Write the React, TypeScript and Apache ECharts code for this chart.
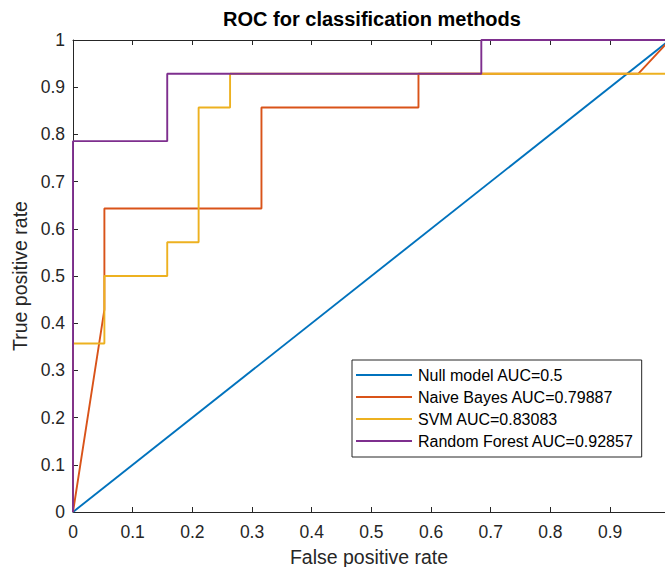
import React, { useEffect, useRef } from "react";
import * as echarts from "echarts";

const xTicks = [0, 0.1, 0.2, 0.3, 0.4, 0.5, 0.6, 0.7, 0.8, 0.9];
const yTicks = [0, 0.1, 0.2, 0.3, 0.4, 0.5, 0.6, 0.7, 0.8, 0.9, 1];

const seriesNames = [
  "Null model AUC=0.5",
  "Naive Bayes AUC=0.79887",
  "SVM AUC=0.83083",
  "Random Forest AUC=0.92857",
];
const seriesColors = ["#0072BD", "#D95319", "#EDB120", "#7E2F8E"];

const nullX = [0, 1];
const nullY = [0, 1];
const nbX = [0, 0.0526, 0.0526, 0.3158, 0.3158, 0.5789, 0.5789, 0.9474, 1];
const nbY = [0, 0.4286, 0.6429, 0.6429, 0.8571, 0.8571, 0.9286, 0.9286, 1];
const svmX = [0, 0, 0.0526, 0.0526, 0.1579, 0.1579, 0.2105, 0.2105, 0.2632, 0.2632, 1, 1];
const svmY = [0, 0.3571, 0.3571, 0.5, 0.5, 0.5714, 0.5714, 0.8571, 0.8571, 0.9286, 0.9286, 1];
const rfX = [0, 0, 0.1579, 0.1579, 0.6842, 0.6842, 1];
const rfY = [0, 0.7857, 0.7857, 0.9286, 0.9286, 1, 1];

const allX = [nullX, nbX, svmX, rfX];
const allY = [nullY, nbY, svmY, rfY];

const FONT = "'Liberation Sans', Arial, Helvetica, sans-serif";
const AX = "#262626";

export default function App() {
  const ref = useRef<HTMLDivElement>(null);
  useEffect(() => {
    if (!ref.current) return;
    const chart = echarts.init(ref.current, undefined, { renderer: "svg" });
    const series = seriesNames.map((name, i) => ({
      name,
      type: "line",
      xAxisIndex: 0,
      yAxisIndex: 0,
      data: allX[i].map((x, j) => [x, allY[i][j]]),
      symbol: "none",
      clip: true,
      lineStyle: { color: seriesColors[i], width: 1.9 },
      itemStyle: { color: seriesColors[i] },
    }));
    chart.setOption({
      animation: false,
      backgroundColor: "#ffffff",
      textStyle: { fontFamily: FONT },
      title: {
        text: "ROC for classification methods",
        left: 372,
        top: 9,
        padding: 0,
        textAlign: "center",
        textStyle: { fontFamily: FONT, fontSize: 20, fontWeight: "bold", color: "#000" },
      },
      grid: { left: 73, right: 0, top: 40, bottom: 55, containLabel: false, outerBoundsMode: "none" },
      legend: {
        data: seriesNames,
        orient: "vertical",
        left: 352,
        top: 360,
        padding: [6, 8, 7, 3],
        itemWidth: 56,
        itemHeight: 14,
        itemGap: 4,
        backgroundColor: "#ffffff",
        borderColor: AX,
        borderWidth: 1,
        borderRadius: 0,
        itemStyle: { color: "rgba(0,0,0,0)", borderColor: "rgba(0,0,0,0)", borderWidth: 0 },
        textStyle: { fontFamily: FONT, fontSize: 16, color: "#000", lineHeight: 18, padding: [0, 0, 0, 1] },
      },
      xAxis: [
        {
          type: "value",
          min: 0,
          max: 0.992,
          interval: 0.1,
          position: "bottom",
          name: "False positive rate",
          nameLocation: "middle",
          nameGap: 35,
          nameTextStyle: { fontFamily: FONT, fontSize: 19.5, color: AX },
          axisLine: { show: true, onZero: false, lineStyle: { color: AX, width: 1 } },
          axisTick: { show: true, inside: true, length: 5, customValues: xTicks, lineStyle: { color: AX } },
          axisLabel: { fontFamily: FONT, fontSize: 17.5, color: AX, margin: 11, customValues: xTicks },
          splitLine: { show: false },
        },
        {
          type: "value",
          min: 0,
          max: 0.992,
          interval: 0.1,
          position: "top",
          axisLine: { show: true, onZero: false, lineStyle: { color: AX, width: 1 } },
          axisTick: { show: true, inside: true, length: 5, customValues: xTicks, lineStyle: { color: AX } },
          axisLabel: { show: false },
          splitLine: { show: false },
        },
      ],
      yAxis: {
        type: "value",
        min: 0,
        max: 1,
        interval: 0.1,
        name: "True positive rate",
        nameLocation: "middle",
        nameGap: 40,
        nameTextStyle: { fontFamily: FONT, fontSize: 19.5, color: AX },
        axisLine: { show: true, onZero: false, lineStyle: { color: AX, width: 1 } },
        axisTick: { show: true, inside: true, length: 5, customValues: yTicks, lineStyle: { color: AX } },
        axisLabel: { fontFamily: FONT, fontSize: 17.5, color: AX, margin: 8, customValues: yTicks },
        splitLine: { show: false },
      },
      series,
    });
    return () => chart.dispose();
  }, []);
  return (
    <div
      ref={ref}
      style={{ position: "absolute", left: 0, top: 0, width: 665, height: 567, background: "#fff" }}
    />
  );
}
